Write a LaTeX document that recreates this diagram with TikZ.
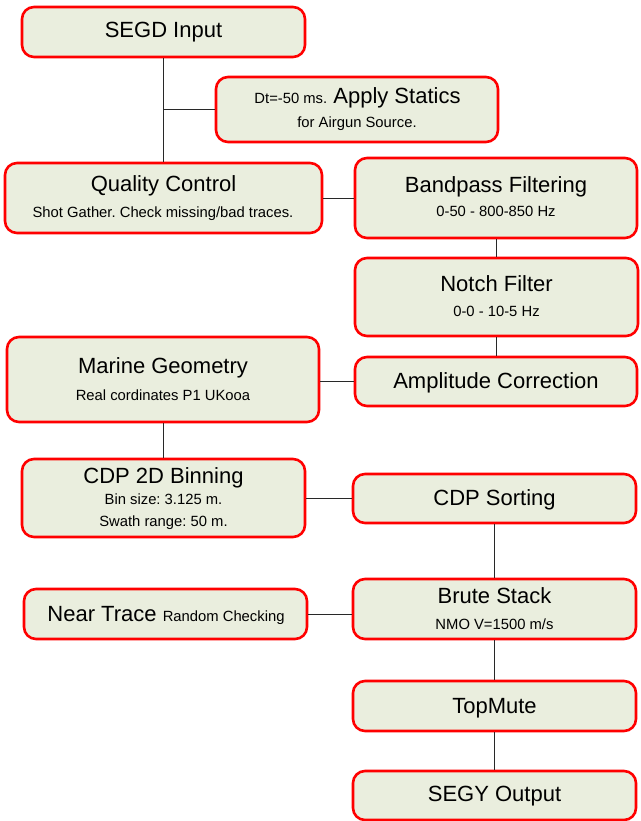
\documentclass[tikz,border=0pt]{standalone}
\usepackage{fontspec}
\setmainfont{Liberation Sans}
\frenchspacing
\definecolor{boxfill}{RGB}{234,238,222}
\definecolor{boxline}{RGB}{255,0,0}
\definecolor{wire}{RGB}{40,40,40}
\begin{document}
\frenchspacing
\begin{tikzpicture}[x=1pt,y=-1pt,
  box/.style={draw=boxline, line width=2.6pt, rounded corners=12pt, fill=boxfill, inner sep=0pt, minimum width=#1},
  box/.default=283pt,
  ttl/.style={anchor=base, inner sep=0pt, font=\fontsize{22}{26}\selectfont},
  sub/.style={anchor=base, inner sep=0pt, font=\fontsize{14.8}{18}\selectfont},
  conn/.style={draw=wire, line width=0.8pt}]
\useasboundingbox (0,0) rectangle (640,821);
% boxes
\node[box=283pt, minimum height=50pt] (segd) at (163.5,32) {};
\node[box=282pt, minimum height=65pt] (statics) at (357,109.5) {};
\node[box=317pt, minimum height=70pt] (qc) at (163.5,198) {};
\node[box=282pt, minimum height=80pt] (bp) at (496,198) {};
\node[box=283pt, minimum height=78pt] (notch) at (496.5,297) {};
\node[box=312pt, minimum height=85pt] (marine) at (163,379.5) {};
\node[box=282pt, minimum height=49pt] (amp) at (496,381.5) {};
\node[box=283pt, minimum height=78pt] (bin) at (163.5,498) {};
\node[box=283pt, minimum height=49pt] (sort) at (494.5,498.5) {};
\node[box=283pt, minimum height=50pt] (near) at (165.5,614) {};
\node[box=283pt, minimum height=60pt] (brute) at (494.5,609) {};
\node[box=283pt, minimum height=50pt] (mute) at (494.5,706) {};
\node[box=283pt, minimum height=49pt] (segy) at (494.5,795.5) {};
% texts
\node[ttl] (segdT) at (163.5,38) {SEGD Input};
\node[ttl] (staticsT) at (357.5,104) {{\fontsize{14.8}{18}\selectfont Dt=-50 ms.} Apply Statics};
\node[sub] (staticsS) at (357,128) {for Airgun Source.};
\node[ttl] (qcT) at (163.5,192) {Quality Control};
\node[sub] (qcS) at (163,217) {Shot Gather. Check missing/bad traces.};
\node[ttl] (bpT) at (496,193) {Bandpass Filtering};
\node[sub] (bpS) at (496,216) {0-50 - 800-850 Hz};
\node[ttl] (notchT) at (496.5,291) {Notch Filter};
\node[sub] (notchS) at (496.5,316) {0-0 - 10-5 Hz};
\node[ttl] (marineT) at (163,373) {Marine Geometry};
\node[sub] (marineS) at (163,400) {Real cordinates P1 UKooa};
\node[ttl] (ampT) at (496,388) {Amplitude Correction};
\node[ttl] (binT) at (163.5,483) {CDP 2D Binning};
\node[sub] (binS) at (163.5,504) {Bin size: 3.125 m.};
\node[sub] (binS2) at (163.5,526) {Swath range: 50 m.};
\node[ttl] (sortT) at (494.5,505) {CDP Sorting};
\node[ttl] (nearT) at (166,621) {Near Trace {\fontsize{14.8}{18}\selectfont Random Checking}};
\node[ttl] (bruteT) at (494.5,603) {Brute Stack};
\node[sub] (bruteS) at (494.5,629) {NMO V=1500 m/s};
\node[ttl] (muteT) at (494.5,713) {TopMute};
\node[ttl] (segyT) at (494.5,801) {SEGY Output};
% connectors
\draw[conn] (segd.south) -- (qc.north);
\draw[conn] (statics.west) -- (statics.west -| segd.south);
\draw[conn] (qc.east) -- (bp.west);
\draw[conn] (bp.south) -- (bp.south |- notch.north);
\draw[conn] (notch.south) -- (notch.south |- amp.north);
\draw[conn] (amp.west -| marine.east) -- (amp.west);
\draw[conn] (marine.south) -- (marine.south |- bin.north);
\draw[conn] (bin.east) -- (bin.east -| sort.west);
\draw[conn] (sort.south) -- (sort.south |- brute.north);
\draw[conn] (near.east) -- (near.east -| brute.west);
\draw[conn] (brute.south) -- (mute.north);
\draw[conn] (mute.south) -- (segy.north);
\end{tikzpicture}
\end{document}
